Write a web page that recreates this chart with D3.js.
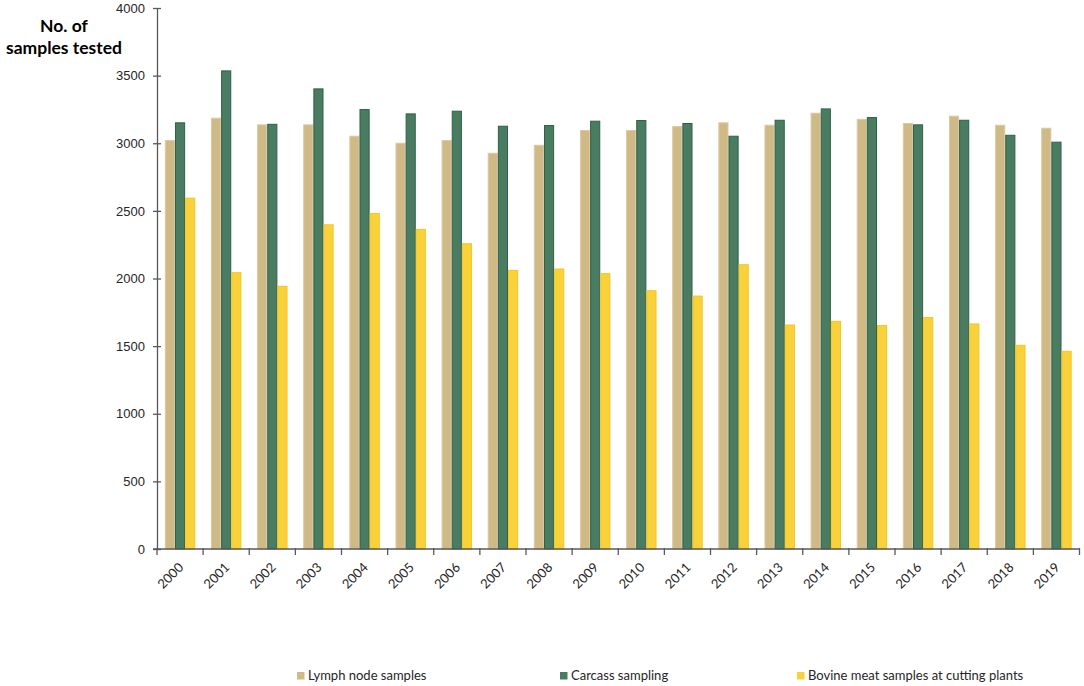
<!DOCTYPE html>
<html>
<head>
<meta charset="utf-8">
<script src="https://cdn.jsdelivr.net/npm/d3@7"></script>
<style>
  body { margin: 0; background: #fff; }
  svg { display: block; font-family: Lato, "Open Sans", sans-serif; }
</style>
</head>
<body>
<div id="wrapper"></div>
<script>
// data
const years = ['2000','2001','2002','2003','2004','2005','2006','2007','2008','2009',
               '2010','2011','2012','2013','2014','2015','2016','2017','2018','2019'];
const seriesNames = ['Lymph node samples', 'Carcass sampling', 'Bovine meat samples at cutting plants'];
const lymphNode = [3020,3185,3136,3136,3052,3000,3020,2926,2985,3094,3094,3123,3151,3133,3222,3177,3146,3200,3133,3111];
const carcass   = [3151,3535,3140,3402,3249,3217,3237,3126,3131,3163,3168,3146,3052,3170,3254,3190,3136,3170,3059,3008];
const bovineMeat = [2594,2043,1942,2397,2481,2363,2257,2060,2070,2036,1910,1870,2102,1656,1683,1652,1711,1664,1506,1462];
const yTicks = [0,500,1000,1500,2000,2500,3000,3500,4000];

const seriesValues = [lymphNode, carcass, bovineMeat];
const fills   = ['#cfb987', '#4a7c62', '#f9d13a'];
const strokes = ['#dcc99e', '#2f6047', '#f4c623'];

const width = 1084, height = 686;
const margin = { left: 157, top: 8, right: 5, bottom: 137 };
const plotW = 1079.5 - margin.left, plotH = 549 - margin.top;

const svg = d3.select('#wrapper').append('svg')
  .attr('width', width).attr('height', height);

const x = d3.scaleBand().domain(years).range([0, plotW]).padding(0);
const xSub = d3.scaleBand().domain(d3.range(3))
  .range([x.bandwidth() * 0.17, x.bandwidth() * 0.83]).padding(0);
const y = d3.scaleLinear().domain([0, 4000]).range([plotH, 0]);

const g = svg.append('g').attr('transform', 'translate(' + margin.left + ',' + margin.top + ')');

// bars
const rows = years.map(function(yr, i) {
  return { year: yr, vals: seriesValues.map(function(s) { return s[i]; }) };
});
g.selectAll('g.year').data(rows).enter().append('g')
  .attr('class', 'year')
  .attr('transform', function(d) { return 'translate(' + x(d.year) + ',0)'; })
  .selectAll('rect')
  .data(function(d) { return d.vals; })
  .enter().append('rect')
  .attr('x', function(d, i) { return xSub(i) + 0.5; })
  .attr('width', xSub.bandwidth() - 1)
  .attr('y', function(d) { return y(d); })
  .attr('height', function(d) { return plotH - y(d); })
  .attr('fill', function(d, i) { return fills[i]; })
  .attr('stroke', function(d, i) { return strokes[i]; })
  .attr('stroke-width', 1);

// y axis
const yAxis = g.append('g')
  .call(d3.axisLeft(y).tickValues(yTicks).tickFormat(d3.format('d'))
    .tickSizeInner(4).tickSizeOuter(0).tickPadding(8));
yAxis.selectAll('.tick line').attr('x2', 4).attr('x1', -4);
yAxis.select('.domain').attr('stroke', '#595959').attr('stroke-width', 1.3);
yAxis.selectAll('.tick line').attr('stroke', '#595959').attr('stroke-width', 1.3);
yAxis.selectAll('.tick text').attr('font-size', 13).attr('fill', '#262626');

// x axis: ticks sit on band boundaries
const xAxis = g.append('g').attr('transform', 'translate(0,' + plotH + ')');
xAxis.append('line')
  .attr('x1', -4).attr('x2', plotW)
  .attr('stroke', '#595959').attr('stroke-width', 1.3);
xAxis.selectAll('line.tk').data(years.concat(['end'])).enter().append('line')
  .attr('class', 'tk')
  .attr('x1', function(d, i) { return i * x.step(); })
  .attr('x2', function(d, i) { return i * x.step(); })
  .attr('y1', -1).attr('y2', 6)
  .attr('stroke', '#595959').attr('stroke-width', 1.3);
xAxis.selectAll('text').data(years).enter().append('text')
  .attr('transform', function(d) { return 'translate(' + (x(d) + x.bandwidth() / 2 + 1) + ',16) rotate(-45)'; })
  .attr('text-anchor', 'end')
  .attr('dy', '0.35em')
  .attr('font-size', 13)
  .attr('fill', '#262626')
  .text(function(d) { return d; });

// y title
const title = svg.append('text')
  .attr('text-anchor', 'middle')
  .attr('font-weight', 'bold')
  .attr('font-size', 17.5)
  .attr('fill', '#000');
title.append('tspan').attr('x', 64).attr('y', 32).text('No. of');
title.append('tspan').attr('x', 64).attr('y', 54).text('samples tested');

// legend
const legendX = [297, 560, 797];
const legend = svg.selectAll('g.legend').data(seriesNames).enter().append('g')
  .attr('class', 'legend')
  .attr('transform', function(d, i) { return 'translate(' + legendX[i] + ',672)'; });
legend.append('rect')
  .attr('width', 7.5).attr('height', 7.5)
  .attr('fill', function(d, i) { return fills[i]; });
legend.append('text')
  .attr('x', 11).attr('y', 8)
  .attr('font-size', 13)
  .attr('fill', '#262626')
  .text(function(d) { return d; });
</script>
</body>
</html>
